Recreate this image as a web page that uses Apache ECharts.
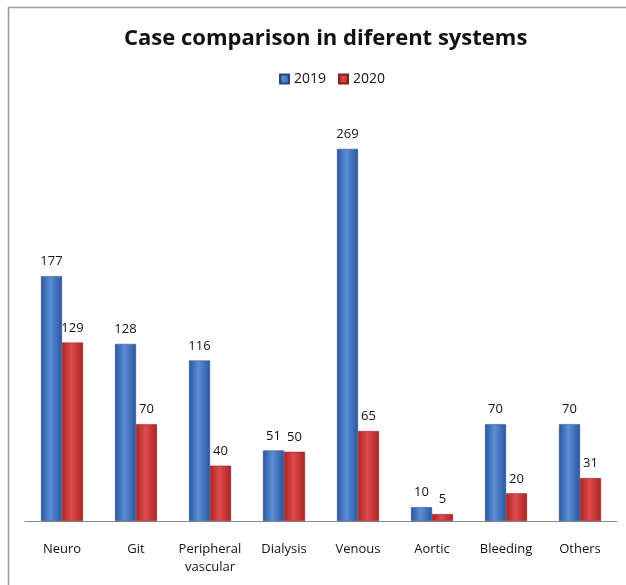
<!DOCTYPE html>
<html>
<head>
<meta charset="utf-8">
<script src="https://cdn.jsdelivr.net/npm/echarts@6/dist/echarts.min.js"></script>
<style>
  html, body { margin: 0; padding: 0; background: #fff; }
  #chart { width: 626px; height: 585px; }
</style>
</head>
<body>
<div id="chart"></div>
<script>
const categories = ['Neuro', 'Git', 'Peripheral\nvascular', 'Dialysis', 'Venous', 'Aortic', 'Bleeding', 'Others']
const cases2019 = [177, 128, 116, 51, 269, 10, 70, 70]
const cases2020 = [129, 70, 40, 50, 65, 5, 20, 31]

const font = 'Open Sans, Noto Sans, sans-serif'

// cylinder-ish shading, dark edges and lighter middle
const shade = (edge, mid) => ({
  type: 'linear', x: 0, y: 0, x2: 1, y2: 0,
  colorStops: [
    { offset: 0, color: edge },
    { offset: 0.45, color: mid },
    { offset: 1, color: edge }
  ]
})

const myChart = echarts.init(document.getElementById('chart'))
const option = {
  animation: false,
  title: {
    text: 'Case comparison in diferent systems',
    left: 119,
    top: 23,
    textStyle: { fontFamily: font, fontSize: 22, fontWeight: 'bold', color: '#111' }
  },
  legend: {
    top: 67,
    left: 274,
    itemWidth: 9,
    itemHeight: 9,
    itemGap: 12,
    icon: 'rect',
    textStyle: { fontFamily: font, fontSize: 14, color: '#111' },
    data: ['2019', '2020']
  },
  graphic: [
    { type: 'line', shape: { x1: 8, y1: 7.5, x2: 626, y2: 7.5 }, style: { stroke: '#999', lineWidth: 1.5 } },
    { type: 'line', shape: { x1: 8.5, y1: 7, x2: 8.5, y2: 585 }, style: { stroke: '#999', lineWidth: 1.5 } }
  ],
  grid: { left: 25, right: 9, top: 106, bottom: 64 },
  xAxis: {
    type: 'category',
    data: categories,
    axisLine: { lineStyle: { color: '#888' } },
    axisTick: { show: false },
    axisLabel: { fontFamily: font, fontSize: 13, color: '#111', margin: 19, lineHeight: 18, interval: 0 }
  },
  yAxis: {
    type: 'value',
    min: 0,
    max: 300,
    show: false,
    splitLine: { show: false }
  },
  series: [
    {
      name: '2019',
      type: 'bar',
      data: cases2019,
      barWidth: 21,
      barGap: '0%',
      itemStyle: { color: shade('#2a56a0', '#5b8fd6'), borderColor: '#23477f', borderWidth: 0.5 },
      label: { show: true, position: 'top', distance: 8, fontFamily: font, fontSize: 13, color: '#111' }
    },
    {
      name: '2020',
      type: 'bar',
      data: cases2020,
      barWidth: 21,
      itemStyle: { color: shade('#a82525', '#e04a4a'), borderColor: '#8a1f1f', borderWidth: 0.5 },
      label: { show: true, position: 'top', distance: 8, fontFamily: font, fontSize: 13, color: '#111' }
    }
  ]
}
option && myChart.setOption(option)
window.addEventListener('resize', function () {
  myChart.resize()
})
</script>
</body>
</html>
